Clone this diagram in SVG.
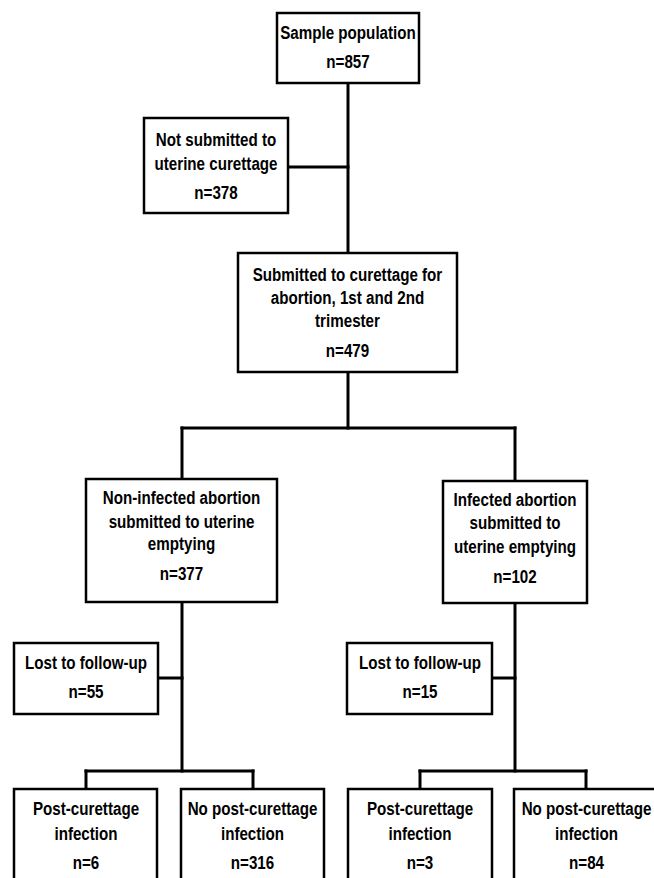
<svg xmlns="http://www.w3.org/2000/svg" width="654" height="878" viewBox="0 0 654 878">
<style>
.box{fill:#fff;stroke:#000;stroke-width:2.5}
.ln{fill:none;stroke:#000;stroke-width:3;stroke-linecap:square}
text{font-family:"Liberation Sans","Arial",sans-serif;font-weight:bold;font-size:18.5px;fill:#000;text-anchor:middle}
</style>
<rect width="654" height="878" fill="#fff"/>
<g id="connectors">
<path class="ln" d="M348,83V253"/>
<path class="ln" d="M288,167H348"/>
<path class="ln" d="M348,372V428"/>
<path class="ln" d="M182,428H515"/>
<path class="ln" d="M182,428V479"/>
<path class="ln" d="M515,428V481"/>
<path class="ln" d="M182,602V771"/>
<path class="ln" d="M158,678H182"/>
<path class="ln" d="M86,771H253"/>
<path class="ln" d="M86,771V789"/>
<path class="ln" d="M253,771V789"/>
<path class="ln" d="M515,603V771"/>
<path class="ln" d="M492,678H515"/>
<path class="ln" d="M420,771H586"/>
<path class="ln" d="M420,771V789"/>
<path class="ln" d="M586,771V789"/>
</g>
<g id="sample">
<rect class="box" x="277" y="13" width="142" height="70"/>
<text transform="translate(348 39) scale(0.82 1)">Sample population</text>
<text transform="translate(348 68) scale(0.82 1)">n=857</text>
</g>
<g id="not-submitted">
<rect class="box" x="144" y="118" width="144" height="95"/>
<text transform="translate(216 146) scale(0.82 1)">Not submitted to</text>
<text transform="translate(216 170) scale(0.82 1)">uterine curettage</text>
<text transform="translate(216 199) scale(0.82 1)">n=378</text>
</g>
<g id="submitted">
<rect class="box" x="238" y="253" width="219" height="119"/>
<text transform="translate(347.5 281) scale(0.82 1)">Submitted to curettage for</text>
<text transform="translate(347.5 304) scale(0.82 1)">abortion, 1st and 2nd</text>
<text transform="translate(347.5 327) scale(0.82 1)">trimester</text>
<text transform="translate(347.5 357) scale(0.82 1)">n=479</text>
</g>
<g id="non-infected">
<rect class="box" x="86" y="479" width="191" height="123"/>
<text transform="translate(181.5 504) scale(0.82 1)">Non-infected abortion</text>
<text transform="translate(181.5 528) scale(0.82 1)">submitted to uterine</text>
<text transform="translate(181.5 550) scale(0.82 1)">emptying</text>
<text transform="translate(181.5 580) scale(0.82 1)">n=377</text>
</g>
<g id="infected">
<rect class="box" x="443" y="481" width="144" height="122"/>
<text transform="translate(515 506) scale(0.82 1)">Infected abortion</text>
<text transform="translate(515 529) scale(0.82 1)">submitted to</text>
<text transform="translate(515 553) scale(0.82 1)">uterine emptying</text>
<text transform="translate(515 583) scale(0.82 1)">n=102</text>
</g>
<g id="lost-left">
<rect class="box" x="14" y="643" width="144" height="71"/>
<text transform="translate(86 669) scale(0.82 1)">Lost to follow-up</text>
<text transform="translate(86 698) scale(0.82 1)">n=55</text>
</g>
<g id="lost-right">
<rect class="box" x="347" y="643" width="145" height="71"/>
<text transform="translate(420 669) scale(0.82 1)">Lost to follow-up</text>
<text transform="translate(420 698) scale(0.82 1)">n=15</text>
</g>
<g id="post-left">
<rect class="box" x="14" y="789" width="143" height="100"/>
<text transform="translate(86 815) scale(0.82 1)">Post-curettage</text>
<text transform="translate(86 840) scale(0.82 1)">infection</text>
<text transform="translate(86 869) scale(0.82 1)">n=6</text>
</g>
<g id="nopost-left">
<rect class="box" x="181" y="789" width="143" height="100"/>
<text transform="translate(252.5 815) scale(0.82 1)">No post-curettage</text>
<text transform="translate(252.5 840) scale(0.82 1)">infection</text>
<text transform="translate(252.5 869) scale(0.82 1)">n=316</text>
</g>
<g id="post-right">
<rect class="box" x="348" y="789" width="144" height="100"/>
<text transform="translate(420 815) scale(0.82 1)">Post-curettage</text>
<text transform="translate(420 840) scale(0.82 1)">infection</text>
<text transform="translate(420 869) scale(0.82 1)">n=3</text>
</g>
<g id="nopost-right">
<rect class="box" x="514" y="789" width="145" height="100"/>
<text transform="translate(586.5 815) scale(0.82 1)">No post-curettage</text>
<text transform="translate(586.5 840) scale(0.82 1)">infection</text>
<text transform="translate(586.5 869) scale(0.82 1)">n=84</text>
</g>
</svg>
